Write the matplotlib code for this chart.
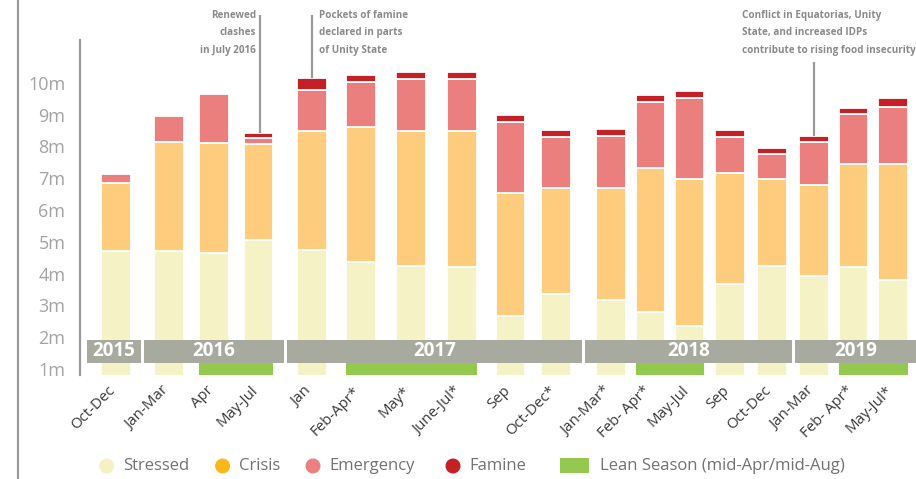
import matplotlib
matplotlib.use("Agg")
import matplotlib.pyplot as plt
import matplotlib.transforms as mtransforms
from matplotlib.patches import Rectangle, Ellipse
from matplotlib.lines import Line2D
import numpy as np

# ---------------- data ----------------
periods = ["Oct-Dec", "Jan-Mar", "Apr", "May-Jul", "Jan", "Feb-Apr*", "May*",
           "June-Jul*", "Sep", "Oct-Dec*", "Jan-Mar*", "Feb- Apr*", "May-Jul",
           "Sep", "Oct-Dec", "Jan-Mar", "Feb- Apr*", "May-Jul*"]
years = [2015, 2016, 2016, 2016, 2017, 2017, 2017, 2017, 2017, 2017,
         2018, 2018, 2018, 2018, 2018, 2019, 2019, 2019]
lean = [0, 0, 1, 1, 0, 1, 1, 1, 0, 0, 0, 1, 1, 0, 0, 0, 1, 1]

stressed = [4.70, 4.72, 4.65, 5.07, 4.75, 4.35, 4.23, 4.22, 2.67, 3.37,
            3.18, 2.79, 2.36, 3.68, 4.23, 3.91, 4.21, 3.81]
crisis = [2.16, 3.43, 3.47, 3.00, 3.74, 4.25, 4.25, 4.25, 3.85, 3.33,
          3.52, 4.54, 4.63, 3.47, 2.73, 2.89, 3.23, 3.63]
emergency = [0.26, 0.80, 1.52, 0.18, 1.28, 1.43, 1.64, 1.64, 2.25, 1.61,
             1.64, 2.08, 2.52, 1.13, 0.81, 1.33, 1.57, 1.79]
famine = [0.00, 0.00, 0.00, 0.17, 0.38, 0.22, 0.23, 0.24, 0.22, 0.21,
          0.21, 0.21, 0.24, 0.24, 0.18, 0.20, 0.20, 0.30]

yticks = [1, 2, 3, 4, 5, 6, 7, 8, 9, 10]
ytick_labels = [f"{v}m" for v in yticks]

legend_labels = ["Stressed", "Crisis", "Emergency", "Famine",
                 "Lean Season (mid-Apr/mid-Aug)"]

annotations = [
    (3, "Renewed\nclashes\nin July 2016"),
    (4, "Pockets of famine\ndeclared in parts\nof Unity State"),
    (15, "Conflict in Equatorias, Unity\nState, and increased IDPs\ncontribute to rising food insecurity"),
]

# ---------------- layout / style ----------------
W, H = 916, 479
x_slot = [116, 169, 214, 258.5, 312, 361, 411, 462, 510.5, 556, 611, 650.5,
          689.5, 730, 772, 814, 853.5, 893]
bar_w = 29.5
# annotation layout: (text x px, align, line top px, line x offset)
ann_layout = [(256, "right", 15, 1.5), (319, "left", 15, 0), (742, "left", 62, 0)]

c_stressed = "#f5f2c6"
c_crisis = "#fdcc7c"
c_emerg = "#eb7f7e"
c_famine = "#c42026"
c_lean = "#93c94f"
c_band = "#a9aa9f"
c_axis = "#9a9a9a"

SANS = ["Open Sans", "DejaVu Sans"]

fig = plt.figure(figsize=(W / 100, H / 100), dpi=100)
fig.patch.set_facecolor("white")

def v_of(px):
    return 1 + (369 - px) / 31.8

ax = fig.add_axes([80 / W, 1 - 375 / H, (W - 80) / W, 335 / H])
ax.set_xlim(80, W)
ax.set_ylim(v_of(375), v_of(40))

x = np.array(x_slot)
s = np.array(stressed)
c = np.array(crisis)
e = np.array(emergency)
f = np.array(famine)

kw = dict(width=bar_w, edgecolor="white", linewidth=1.3, zorder=2)
ax.bar(x, s, color=c_stressed, **kw)
ax.bar(x, c, bottom=s, color=c_crisis, **kw)
ax.bar(x, e, bottom=s + c, color=c_emerg, **kw)
fmask = f > 0
ax.bar(x[fmask], f[fmask], bottom=(s + c + e)[fmask], color=c_famine, **kw)

# year band
band_top, band_bot = v_of(340), v_of(362.7)
yrs = sorted(set(years))
bounds = [86.5]
for y0, y1 in zip(yrs[:-1], yrs[1:]):
    last = max(i for i, yy in enumerate(years) if yy == y0)
    first = min(i for i, yy in enumerate(years) if yy == y1)
    bounds.append(((x[last] + bar_w / 2) + (x[first] - bar_w / 2)) / 2)
bounds.append(W + 5)
for k, yy in enumerate(yrs):
    lft = bounds[k] + (1.5 if k > 0 else 0)
    rgt = bounds[k + 1] - (1.5 if k < len(yrs) - 1 else 0)
    ax.add_patch(Rectangle((lft, band_bot), rgt - lft, band_top - band_bot,
                           facecolor=c_band, edgecolor="none", zorder=4, clip_on=False))
    cx = (lft + min(rgt, W)) / 2
    ax.text(cx, (band_top + band_bot) / 2, str(yy), ha="center", va="center",
            color="white", fontsize=13.5, fontweight="bold", family=SANS, zorder=5)

# lean season strips
runs = []
i = 0
while i < len(lean):
    if lean[i]:
        j = i
        while j + 1 < len(lean) and lean[j + 1]:
            j += 1
        runs.append((i, j))
        i = j + 1
    else:
        i += 1
ybot = v_of(375)
for i0, j0 in runs:
    lft = x[i0] - bar_w / 2
    rgt = x[j0] + bar_w / 2
    ax.add_patch(Rectangle((lft, ybot), rgt - lft, band_bot - ybot,
                           facecolor=c_lean, edgecolor="none", zorder=4))

# axes styling
for sp in ["top", "right", "bottom"]:
    ax.spines[sp].set_visible(False)
ax.spines["left"].set_color(c_axis)
ax.spines["left"].set_linewidth(1.6)
ax.set_yticks(yticks)
ax.set_yticklabels(ytick_labels, family=SANS, fontsize=13, color="#a3a3a3")
ax.tick_params(axis="y", length=0, pad=10.5)
ax.set_xticks(x)
ax.set_xticklabels(periods, rotation=45, ha="right", va="top",
                   rotation_mode="anchor", family=SANS,
                   fontsize=10.8, color="#3a3a3a")
ax.tick_params(axis="x", length=0, pad=6)
shift = mtransforms.ScaledTranslation(-8 / 100, 0, fig.dpi_scale_trans)
for lab in ax.get_xticklabels():
    lab.set_transform(lab.get_transform() + shift)

# annotations
tops = s + c + e + f
for (idx, txt), (tx, ha, ltop, dx) in zip(annotations, ann_layout):
    xb = x[idx] + dx
    ax.plot([xb, xb], [tops[idx], v_of(ltop)], color=c_axis,
            lw=1.6, clip_on=False, zorder=3, solid_capstyle="butt")
    ax.text(tx, v_of(10), txt, ha=ha, va="top", fontsize=7.1, fontweight="bold",
            family=SANS, color="#8a8a8a", linespacing=1.8, clip_on=False)

# outer frame line
fig.add_artist(Line2D([18 / W, 18 / W], [0, 1], transform=fig.transFigure,
                      color=c_axis, lw=1.6))

# legend
lax = fig.add_axes([0, 0, 1, 40 / H])
lax.set_xlim(0, W)
lax.set_ylim(H, H - 40)
lax.axis("off")
leg_colors = ["#f5f1c4", "#fbb81b", "#ec7f7f", "#c42026"]
leg_cx = [106.7, 222.6, 313, 453]
ly = 466
for cx_, col, lab in zip(leg_cx, leg_colors, legend_labels[:4]):
    lax.add_patch(Ellipse((cx_, ly), 15, 15, facecolor=col, edgecolor="none"))
    lax.text(cx_ + 16.5, ly, lab, ha="left", va="center", fontsize=12,
             family=SANS, color="#727272")
lax.add_patch(Rectangle((559.5, ly - 7.5), 29.5, 15, facecolor=c_lean, edgecolor="none"))
lax.text(600.5, ly, legend_labels[4], ha="left", va="center", fontsize=12,
         family=SANS, color="#727272")

fig.savefig("out.png", dpi=100, facecolor="white")
